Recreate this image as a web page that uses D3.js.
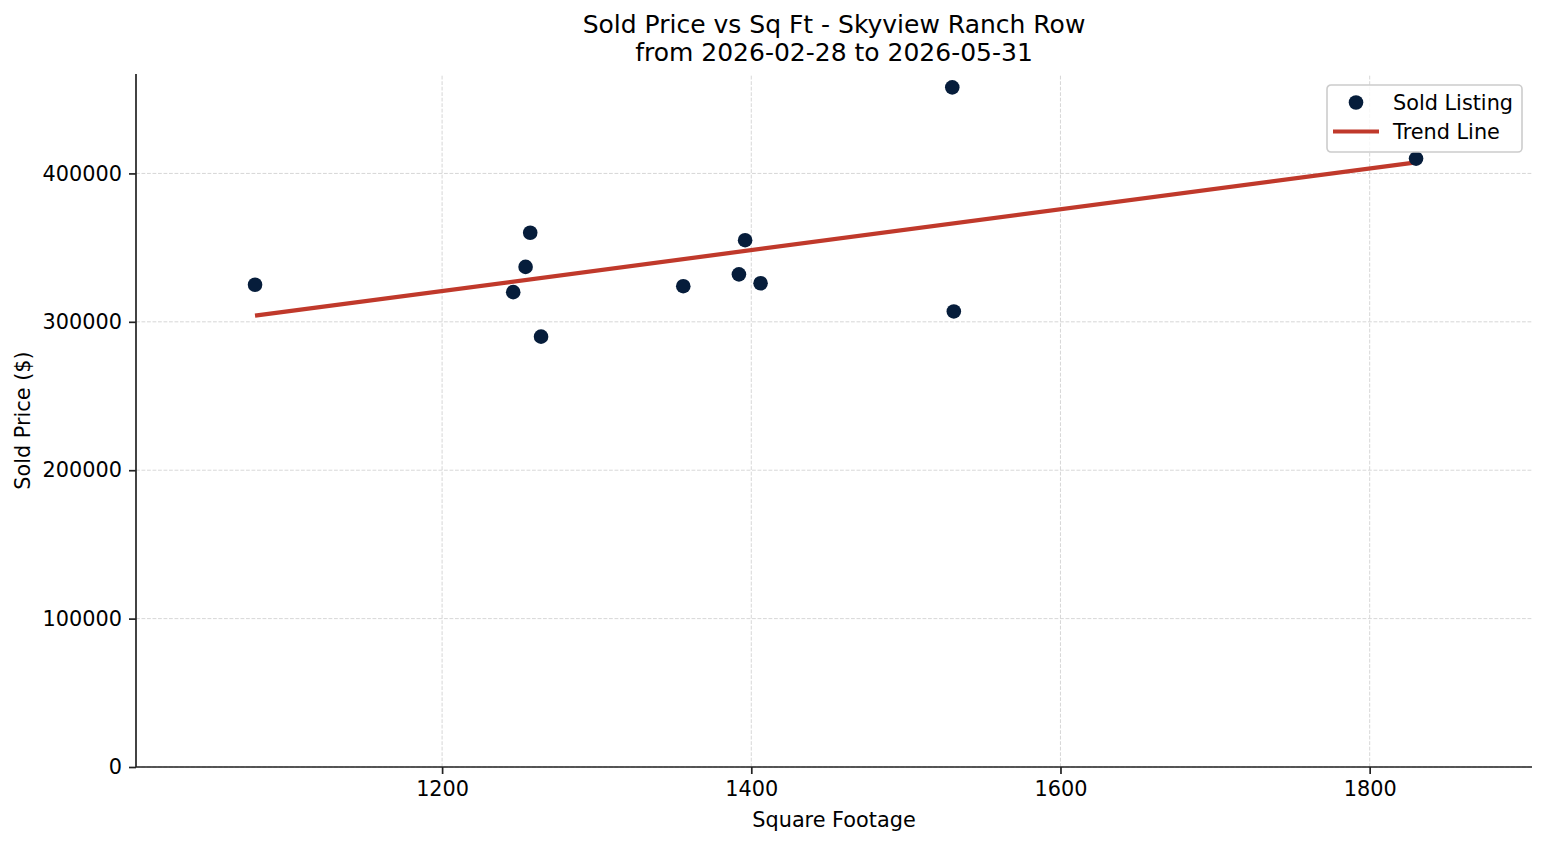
<!DOCTYPE html>
<html>
<head>
<meta charset="utf-8">
<script src="https://cdn.jsdelivr.net/npm/d3@7"></script>
<style>
  body { margin: 0; background: #fff; }
  svg text { font-family: "DejaVu Sans", sans-serif; fill: #000; }
</style>
</head>
<body>
<svg id="chart"></svg>
<script>
// sold listings
var sqft  = [1079, 1246, 1254, 1257, 1264, 1356, 1392, 1396, 1406, 1530, 1531, 1830];
var price = [325000, 320000, 337000, 360000, 290000, 324000, 332000, 355000, 326000, 458000, 307000, 410000];
var xTicks = [1200, 1400, 1600, 1800];
var yTicks = [0, 100000, 200000, 300000, 400000];
var titleLines = ["Sold Price vs Sq Ft - Skyview Ranch Row", "from 2026-02-28 to 2026-05-31"];

var W = 1547, H = 845;
var margin = {left: 136, right: 15, top: 74, bottom: 78};

var svg = d3.select("svg#chart")
    .attr("width", W)
    .attr("height", H);

// scales
var x = d3.scaleLinear()
    .domain([1002, 1905])
    .range([margin.left, W - margin.right]);
var y = d3.scaleLinear()
    .domain([0, 467000])
    .range([H - margin.bottom, margin.top]);

// grid
var grid = svg.append("g");
grid.selectAll("line.v")
    .data(xTicks)
    .enter().append("line")
    .attr("x1", function (d) { return x(d); })
    .attr("x2", function (d) { return x(d); })
    .attr("y1", y.range()[0])
    .attr("y2", y.range()[1])
    .attr("stroke", "#d3d3d3")
    .attr("stroke-width", 0.9)
    .attr("stroke-dasharray", "3.8,1.7");
grid.selectAll("line.h")
    .data(yTicks)
    .enter().append("line")
    .attr("x1", x.range()[0])
    .attr("x2", x.range()[1])
    .attr("y1", function (d) { return y(d); })
    .attr("y2", function (d) { return y(d); })
    .attr("stroke", "#d3d3d3")
    .attr("stroke-width", 0.9)
    .attr("stroke-dasharray", "3.8,1.7");

// axes
var xAxis = svg.append("g")
    .attr("transform", "translate(0," + y.range()[0] + ")")
    .call(d3.axisBottom(x).tickValues(xTicks).tickSize(7).tickPadding(6).tickFormat(d3.format("d")));
var yAxis = svg.append("g")
    .attr("transform", "translate(" + x.range()[0] + ",0)")
    .call(d3.axisLeft(y).tickValues(yTicks).tickSize(7).tickPadding(7).tickFormat(d3.format("d")));

[xAxis, yAxis].forEach(function (a) {
    a.select(".domain").attr("stroke", "#222").attr("stroke-width", 1.7);
    a.selectAll(".tick line").attr("stroke", "#222").attr("stroke-width", 1.7);
    a.selectAll(".tick text")
        .attr("font-family", "DejaVu Sans")
        .attr("font-size", 20.8)
        .attr("fill", "#000");
});
xAxis.selectAll(".tick text").attr("dy", "0.76em");
// spines without outer tick stubs
yAxis.select(".domain").attr("d", "M0," + y.range()[0] + "V" + y.range()[1]);
xAxis.select(".domain").attr("d", "M" + x.range()[0] + ",0H" + x.range()[1]);

// trend line (least squares over the sold listings)
var mx = d3.mean(sqft), my = d3.mean(price);
var sxy = d3.sum(sqft, function (d, i) { return (d - mx) * (price[i] - my); });
var sxx = d3.sum(sqft, function (d) { return (d - mx) * (d - mx); });
var slope = sxy / sxx, icpt = my - slope * mx;
var ends = d3.extent(sqft);

svg.append("path")
    .datum(ends)
    .attr("d", d3.line()
        .x(function (d) { return x(d); })
        .y(function (d) { return y(icpt + slope * d); }))
    .attr("fill", "none")
    .attr("stroke", "#c0392b")
    .attr("stroke-width", 4.2);

// points
svg.append("g")
    .selectAll("circle")
    .data(sqft)
    .enter().append("circle")
    .attr("cx", function (d) { return x(d); })
    .attr("cy", function (d, i) { return y(price[i]); })
    .attr("r", 7.3)
    .attr("fill", "#061d3b");

// titles
svg.append("text")
    .attr("text-anchor", "middle")
    .attr("font-size", 25)
    .selectAll("tspan")
    .data(titleLines)
    .enter().append("tspan")
    .attr("x", (x.range()[0] + x.range()[1]) / 2)
    .attr("y", function (d, i) { return 33 + i * 28; })
    .text(function (d) { return d; });

svg.append("text")
    .attr("x", (x.range()[0] + x.range()[1]) / 2)
    .attr("y", 827)
    .attr("text-anchor", "middle")
    .attr("font-size", 20.8)
    .text("Square Footage");

svg.append("text")
    .attr("transform", "translate(30," + (y.range()[0] + y.range()[1]) / 2 + ") rotate(-90)")
    .attr("text-anchor", "middle")
    .attr("font-size", 20.8)
    .text("Sold Price ($)");

// legend
var lg = svg.append("g").attr("transform", "translate(1327,85)");
lg.append("rect")
    .attr("width", 195)
    .attr("height", 67)
    .attr("rx", 4)
    .attr("fill", "#fff")
    .attr("fill-opacity", 0.8)
    .attr("stroke", "#cccccc")
    .attr("stroke-width", 1.6);
lg.append("circle")
    .attr("cx", 29).attr("cy", 17.5).attr("r", 7.3)
    .attr("fill", "#061d3b");
lg.append("line")
    .attr("x1", 6).attr("x2", 52).attr("y1", 46.5).attr("y2", 46.5)
    .attr("stroke", "#c0392b").attr("stroke-width", 4.2);
lg.append("text").attr("x", 66).attr("y", 25).attr("font-size", 20.8).text("Sold Listing");
lg.append("text").attr("x", 66).attr("y", 54).attr("font-size", 20.8).text("Trend Line");
</script>
</body>
</html>
